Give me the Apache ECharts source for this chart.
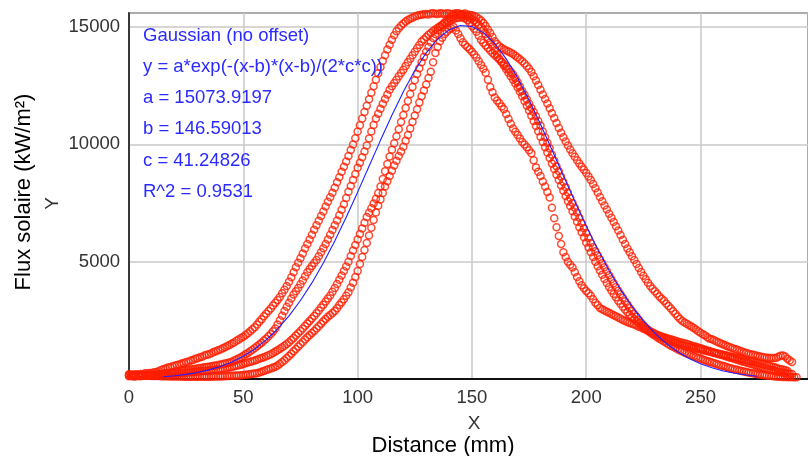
<!DOCTYPE html>
<html>
<head>
<meta charset="utf-8">
<script src="https://cdn.jsdelivr.net/npm/echarts@6/dist/echarts.min.js"></script>
<style>
  html, body { margin: 0; padding: 0; background: #ffffff; }
  #chart { width: 808px; height: 456px; }
</style>
</head>
<body>
<div id="chart"></div>
<script>
// Distance (mm) sampling positions of the measured profiles
const distance = [
  0,1,2,3,4,5,6,7,8,9,10,11,12,13,14,15,16,17,18,19,
  20,21,22,23,24,25,26,27,28,29,30,31,32,33,34,35,36,37,38,39,
  40,41,42,43,44,45,46,47,48,49,50,51,52,53,54,55,56,57,58,59,
  60,61,62,63,64,65,66,67,68,69,70,71,72,73,74,75,76,77,78,79,
  80,81,82,83,84,85,86,87,88,89,90,91,92,93,94,95,96,97,98,99,
  100,101,102,103,104,105,106,107,108,109,110,111,112,113,114,115,116,117,118,119,
  120,121,122,123,124,125,126,127,128,129,130,131,132,133,134,135,136,137,138,139,
  140,141,142,143,144,145,146,147,148,149,150,151,152,153,154,155,156,157,158,159,
  160,161,162,163,164,165,166,167,168,169,170,171,172,173,174,175,176,177,178,179,
  180,181,182,183,184,185,186,187,188,189,190,191,192,193,194,195,196,197,198,199,
  200,201,202,203,204,205,206,207,208,209,210,211,212,213,214,215,216,217,218,219,
  220,221,222,223,224,225,226,227,228,229,230,231,232,233,234,235,236,237,238,239,
  240,241,242,243,244,245,246,247,248,249,250,251,252,253,254,255,256,257,258,259,
  260,261,262,263,264,265,266,267,268,269,270,271,272,273,274,275,276,277,278,279,
  280,281,282,283,284,285,286,287,288,289,290,291,292
];

const profileW = [
  180,160,170,200,190,210,200,240,230,260,
  260,290,300,330,380,420,450,490,500,540,
  560,600,620,660,680,720,740,790,810,860,
  880,930,950,1000,1030,1060,1100,1150,1180,1230,
  1260,1310,1350,1410,1450,1510,1560,1630,1680,1750,
  1800,1880,1950,2040,2120,2210,2320,2440,2550,2670,
  2780,2900,3000,3130,3250,3370,3500,3660,3800,3960,
  4150,4340,4550,4760,4950,5150,5350,5560,5750,5950,
  6150,6360,6550,6750,6950,7140,7350,7560,7750,7940,
  8150,8390,8600,8830,9050,9270,9500,9760,10000,10260,
  10550,10820,11100,11380,11650,11920,12200,12480,12750,13030,
  13300,13550,13800,14040,14250,14460,14650,14820,14950,15060,
  15150,15240,15300,15360,15400,15450,15480,15510,15530,15550,
  15560,15540,15580,15590,15570,15560,15590,15580,15560,15590,
  15580,15550,15570,15590,15590,15560,15560,15580,15540,15520,
  15500,15470,15420,15360,15280,15170,15050,14900,14750,14580,
  14400,14280,14180,14110,14050,14000,13960,13910,13850,13780,
  13700,13630,13540,13450,13340,13220,13080,12900,12720,12530,
  12330,12130,11930,11740,11540,11330,11120,10910,10700,10500,
  10300,10120,9950,9780,9620,9470,9320,9180,9050,8920,
  8780,8630,8480,8310,8130,7950,7760,7580,7400,7220,
  7040,6870,6690,6510,6330,6140,5940,5750,5560,5400,
  5230,5070,4900,4730,4560,4400,4250,4100,3960,3850,
  3740,3630,3520,3420,3330,3220,3110,3000,2890,2780,
  2660,2560,2470,2410,2350,2290,2240,2170,2110,2040,
  1970,1910,1850,1780,1720,1690,1650,1600,1560,1510,
  1470,1430,1390,1350,1310,1280,1250,1210,1170,1140,
  1110,1080,1060,1030,1010,980,960,940,920,910,
  900,890,890,900,950,990,1000,960,860,790,
  720,null,null
];
const profileB = [
  120,130,110,120,130,120,140,150,150,160,
  170,180,190,200,210,230,240,250,270,280,
  300,320,330,350,360,380,390,410,420,440,
  450,470,480,500,510,520,540,560,580,600,
  620,640,660,680,700,740,790,830,880,930,
  990,1050,1110,1180,1250,1320,1400,1470,1550,1640,
  1720,1820,1920,2030,2150,2320,2500,2700,2900,3080,
  3250,3430,3600,3740,3880,4040,4200,4380,4550,4690,
  4820,4940,5070,5230,5400,5570,5750,5950,6150,6350,
  6550,6760,6980,7210,7450,7710,7980,8230,8480,8740,
  9000,9220,9450,9700,9950,10250,10550,10830,11100,11310,
  11520,11730,11930,12130,12330,12480,12620,12760,12900,13040,
  13180,13340,13500,13650,13800,13950,14100,14240,14380,14480,
  14580,14670,14750,14830,14900,14970,15030,15090,15150,15210,
  15260,15310,15350,15380,15400,15410,15420,15370,15300,15180,
  15050,14930,14800,14630,14450,14330,14220,14110,14000,13900,
  13800,13710,13620,13520,13420,13320,13220,13100,12980,12820,
  12650,12470,12280,12100,11920,11730,11550,11380,11200,11000,
  10800,10550,10300,10060,9830,9560,9300,9070,8850,8620,
  8400,8170,7950,7720,7500,7300,7100,6870,6650,6430,
  6220,6010,5800,5620,5450,5270,5100,4930,4760,4590,
  4420,4250,4080,3920,3760,3610,3460,3310,3170,3030,
  2900,2770,2650,2520,2400,2290,2180,2080,1980,1910,
  1850,1780,1720,1660,1600,1540,1480,1420,1370,1320,
  1270,1220,1180,1130,1090,1050,1010,970,940,900,
  870,830,800,760,730,700,670,640,610,580,
  550,520,490,460,440,410,390,360,340,320,
  300,280,260,240,220,200,190,170,160,150,
  140,130,120,110,100,95,90,85,80,80,
  80,75,70
];
const profileC = [
  150,140,130,130,140,150,150,150,160,160,
  170,170,180,190,190,200,200,200,210,220,
  220,230,240,250,260,270,280,290,300,310,
  320,330,340,350,360,370,380,390,400,410,
  420,430,450,470,490,510,540,560,590,610,
  640,670,700,730,760,790,820,860,890,930,
  970,1010,1060,1110,1170,1230,1290,1350,1420,1490,
  1570,1660,1750,1850,1950,2050,2150,2260,2370,2470,
  2580,2690,2800,2920,3050,3170,3300,3430,3560,3720,
  3880,4050,4230,4410,4600,4800,5000,5240,5480,5710,
  5950,6180,6420,6660,6900,7090,7280,7480,7680,7930,
  8200,8520,8850,9160,9480,9770,10050,10350,10650,10950,
  11250,11550,11850,12150,12450,12730,13000,13250,13500,13730,
  13950,14150,14350,14530,14700,14860,15000,15100,15200,15290,
  15380,15430,15480,15500,15520,15510,15500,15480,15450,15400,
  15350,15280,15200,15100,15000,14860,14700,14530,14350,14180,
  14000,13830,13650,13500,13350,13200,13050,12900,12750,12590,
  12420,12240,12050,11850,11650,11440,11220,11000,10780,10560,
  10330,10100,9880,9650,9420,9180,8950,8710,8480,8250,
  8020,7800,7580,7370,7150,6930,6700,6470,6250,6040,
  5820,5610,5400,5200,5000,4810,4620,4440,4260,4090,
  3920,3770,3620,3480,3340,3210,3080,2960,2850,2740,
  2640,2550,2460,2380,2300,2230,2160,2100,2040,1980,
  1930,1880,1830,1780,1740,1690,1650,1610,1570,1530,
  1500,1470,1450,1420,1400,1370,1350,1320,1300,1280,
  1260,1230,1210,1180,1160,1140,1120,1100,1080,1050,
  1030,1010,990,960,940,920,900,870,850,820,
  800,780,760,730,710,680,660,630,610,580,
  560,530,510,480,450,420,400,370,340,null,
  null,null,null
];
const profileD = [
  200,190,180,170,160,155,150,145,140,135,
  130,130,130,125,120,120,120,115,110,110,
  110,110,110,105,100,100,100,100,100,100,
  100,100,100,100,100,100,100,105,110,110,
  110,115,120,125,130,135,140,145,150,160,
  170,180,190,205,220,235,250,280,310,345,
  380,415,450,485,520,580,650,720,800,890,
  980,1080,1180,1280,1380,1480,1580,1680,1780,1870,
  1960,2050,2150,2250,2360,2460,2560,2650,2730,2810,
  2900,3020,3150,3270,3400,3550,3700,3900,4100,4350,
  4600,4900,5200,5500,5800,6120,6450,6780,7100,7380,
  7650,7930,8200,8430,8650,8880,9100,9300,9500,9700,
  9900,10150,10400,10680,10950,11230,11500,11780,12050,12300,
  12550,12830,13100,13500,13900,14150,14400,14550,14700,14800,
  14900,14950,15000,14850,14700,14520,14350,14250,14150,14050,
  13950,13830,13700,13540,13380,13220,13050,12750,12450,12220,
  12000,11870,11750,11620,11500,11290,11080,10880,10680,10540,
  10400,10250,10100,9990,9880,9750,9620,9320,9020,8830,
  8650,8420,8200,7970,7740,7300,6850,6470,6100,5750,
  5400,5200,5000,4870,4750,4550,4350,4170,4000,3870,
  3750,3650,3550,3400,3250,3140,3030,2970,2920,2870,
  2820,2770,2720,2670,2620,2570,2520,2470,2430,2390,
  2360,2320,2280,2230,2190,2140,2100,2050,2010,1960,
  1920,1880,1840,1810,1780,1750,1720,1690,1660,1630,
  1600,1570,1550,1520,1490,1460,1430,1400,1370,1340,
  1310,1280,1250,1220,1190,1150,1120,1090,1060,1030,
  1000,970,940,910,880,850,820,790,760,730,
  700,670,650,620,590,560,530,500,470,440,
  410,380,360,330,310,290,270,250,240,220,
  210,null,null
];

// Gaussian fit curve, as drawn
const fitX = [15,20,25,30,35,40,45,50,55,60,65,70,75,80,85,90,95,100,105,110,115,120,125,130,135,140,145,150,155,160,165,170,175,180,185,190,195,200,205,210,215,220,225,230,235,240,245,250,255,260,265,270,275];
const fitY = [93,136,196,278,388,535,726,971,1281,1666,2132,2689,3344,4096,4944,5882,6895,7964,9067,10172,11242,12246,13145,13903,14491,14883,15063,15023,14764,14299,13645,12831,11891,10859,9771,8665,7570,6518,5531,4625,3811,3093,2475,1951,1516,1161,876,651,477,344,245,172,118];

const fitText = [
  'Gaussian (no offset)',
  'y = a*exp(-(x-b)*(x-b)/(2*c*c))',
  'a = 15073.9197',
  'b = 146.59013',
  'c = 41.24826',
  'R^2 = 0.9531'
];
const xTickStep = 50;
const yTickStep = 5000;

const FONT = '"Liberation Sans", Arial, Helvetica, sans-serif';
const RED = '#ff1e00';

function pairs(arr) {
  const out = [];
  for (let i = 0; i < distance.length; i++) {
    if (arr[i] !== null && arr[i] !== undefined) out.push([distance[i], arr[i]]);
  }
  return out;
}

const chart = echarts.init(document.getElementById('chart'), null, { renderer: 'canvas' });

const scatterSeries = [profileW, profileB, profileC, profileD].map(function (arr) {
  return {
    type: 'scatter',
    data: pairs(arr),
    symbol: 'circle',
    symbolSize: 7,
    itemStyle: { color: 'rgba(255,255,255,0)', borderColor: RED, borderWidth: 1.5 },
    z: 2,
    silent: true
  };
});

const fitLine = {
  type: 'line',
  data: fitX.map(function (x, i) { return [x, fitY[i]]; }),
  showSymbol: false,
  symbol: 'none',
  lineStyle: { color: '#1f1fff', width: 1.1 },
  z: 5,
  silent: true
};

const baselines = [36, 67.2, 98.3, 129.4, 160.6, 191.7];
const graphics = fitText.map(function (t, i) {
  return {
    type: 'text', x: 143, y: baselines[i], z: 10,
    style: { text: t, fill: '#2a2aff', fontSize: 18.5, fontFamily: FONT, align: 'left', verticalAlign: 'middle' }
  };
});
graphics.push({
  type: 'text', x: 23.5, y: 192, rotation: Math.PI / 2, z: 10,
  style: { text: 'Flux solaire (kW/m²)', fill: '#000', fontSize: 22, fontFamily: FONT, align: 'center', verticalAlign: 'middle' }
});
graphics.push({
  type: 'text', x: 52.5, y: 203.5, rotation: Math.PI / 2, z: 10,
  style: { text: 'Y', fill: '#333', fontSize: 19, fontFamily: FONT, align: 'center', verticalAlign: 'middle' }
});
graphics.push({
  type: 'text', x: 474, y: 423.5, z: 10,
  style: { text: 'X', fill: '#333', fontSize: 19, fontFamily: FONT, align: 'center', verticalAlign: 'middle' }
});
graphics.push({
  type: 'text', x: 443, y: 445.5, z: 10,
  style: { text: 'Distance (mm)', fill: '#000', fontSize: 22, fontFamily: FONT, align: 'center', verticalAlign: 'middle' }
});

chart.setOption({
  animation: false,
  backgroundColor: '#ffffff',
  grid: {
    left: 129, top: 13, right: -12, bottom: 77,
    show: true, borderColor: '#222', borderWidth: 1.5, backgroundColor: '#ffffff'
  },
  xAxis: {
    type: 'value', min: 0, max: 297, interval: xTickStep,
    axisLine: { show: true, onZero: false, lineStyle: { color: '#111', width: 2 } },
    axisTick: { show: false },
    axisLabel: { color: '#333', fontSize: 18.5, fontFamily: FONT, margin: 9, showMaxLabel: false,
      formatter: function (v) { return String(v); } },
    splitLine: { show: true, lineStyle: { color: '#c8c8c8', width: 1.5 } }
  },
  yAxis: {
    type: 'value', min: 0, max: 15600, interval: yTickStep,
    axisLine: { show: true, onZero: false, lineStyle: { color: '#111', width: 1.5 } },
    axisTick: { show: false },
    axisLabel: { color: '#333', fontSize: 18.5, fontFamily: FONT, margin: 9, showMinLabel: false, showMaxLabel: false,
      formatter: function (v) { return String(v); } },
    splitLine: { show: true, lineStyle: { color: '#c8c8c8', width: 1.5 } }
  },
  graphic: graphics,
  series: scatterSeries.concat([fitLine])
});
</script>
</body>
</html>
